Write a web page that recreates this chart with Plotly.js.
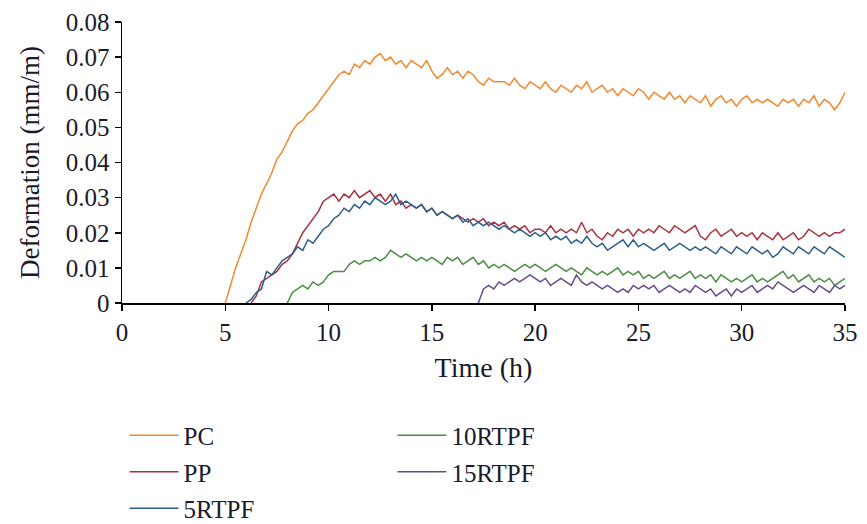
<!DOCTYPE html>
<html>
<head>
<meta charset="utf-8">
<script src="https://cdn.plot.ly/plotly-3.0.1.min.js"></script>
<style>html,body{margin:0;padding:0;background:#fff;}#chart{width:867px;height:524px;}</style>
</head>
<body>
<div id="chart"></div>
<script>
// Time step of the readings (h) and start time of each series
const stepH = 0.25;
const startPC = 5.0, startPP = 6.25, start5 = 6.0, start10 = 8.0, start15 = 17.25;

const seriesNames = ["PC", "PP", "5RTPF", "10RTPF", "15RTPF"];

const valuesPC = [
  0.000,0.005,0.010,0.014,0.018,0.023,0.027,0.031,
  0.034,0.037,0.041,0.043,0.046,0.049,0.051,0.052,
  0.054,0.055,0.057,0.059,0.061,0.063,0.065,0.066,
  0.065,0.068,0.067,0.069,0.068,0.070,0.071,0.069,
  0.070,0.068,0.069,0.067,0.069,0.068,0.067,0.069,
  0.066,0.064,0.065,0.067,0.065,0.066,0.064,0.066,
  0.065,0.063,0.062,0.064,0.063,0.063,0.063,0.062,
  0.064,0.062,0.061,0.063,0.062,0.061,0.063,0.061,
  0.060,0.062,0.061,0.060,0.062,0.061,0.063,0.060,
  0.061,0.062,0.060,0.061,0.059,0.061,0.060,0.059,
  0.061,0.060,0.058,0.060,0.059,0.058,0.060,0.058,
  0.059,0.057,0.059,0.058,0.057,0.059,0.056,0.058,
  0.059,0.057,0.058,0.056,0.058,0.059,0.057,0.058,
  0.057,0.058,0.057,0.056,0.058,0.057,0.058,0.056,
  0.058,0.057,0.059,0.056,0.058,0.057,0.055,0.057,
  0.060
];

const valuesPP = [
  0.000,0.002,0.006,0.007,0.008,0.009,0.011,0.012,
  0.014,0.017,0.020,0.022,0.024,0.026,0.029,0.030,
  0.031,0.029,0.031,0.030,0.032,0.030,0.031,0.032,
  0.030,0.031,0.029,0.031,0.028,0.029,0.027,0.028,
  0.027,0.028,0.026,0.027,0.025,0.026,0.025,0.024,
  0.025,0.024,0.023,0.024,0.023,0.024,0.022,0.023,
  0.022,0.023,0.021,0.022,0.021,0.022,0.020,0.021,
  0.021,0.020,0.022,0.020,0.021,0.020,0.021,0.020,
  0.023,0.020,0.021,0.019,0.018,0.020,0.019,0.021,
  0.020,0.021,0.019,0.021,0.020,0.021,0.020,0.022,
  0.021,0.020,0.022,0.021,0.020,0.021,0.022,0.019,
  0.018,0.020,0.021,0.019,0.020,0.021,0.019,0.020,
  0.019,0.020,0.018,0.020,0.019,0.018,0.020,0.018,
  0.019,0.020,0.018,0.019,0.021,0.020,0.019,0.020,
  0.019,0.020,0.020,0.021
];

const values5RTPF = [
  0.000,0.001,0.003,0.004,0.009,0.008,0.010,0.012,
  0.013,0.014,0.016,0.015,0.018,0.017,0.019,0.021,
  0.022,0.024,0.025,0.027,0.026,0.028,0.027,0.029,
  0.028,0.030,0.029,0.028,0.029,0.031,0.028,0.029,
  0.028,0.027,0.028,0.026,0.027,0.025,0.026,0.025,
  0.024,0.025,0.023,0.024,0.022,0.023,0.022,0.023,
  0.022,0.021,0.022,0.021,0.020,0.021,0.020,0.019,
  0.020,0.019,0.020,0.018,0.019,0.018,0.019,0.017,
  0.018,0.017,0.019,0.017,0.016,0.017,0.015,0.016,
  0.017,0.018,0.016,0.018,0.016,0.017,0.016,0.015,
  0.016,0.017,0.015,0.016,0.017,0.016,0.015,0.016,
  0.015,0.016,0.015,0.014,0.016,0.015,0.014,0.016,
  0.015,0.014,0.016,0.015,0.014,0.015,0.013,0.014,
  0.016,0.015,0.014,0.016,0.015,0.014,0.016,0.015,
  0.014,0.016,0.015,0.014,0.013
];

const values10RTPF = [
  0.000,0.003,0.004,0.005,0.004,0.006,0.005,0.006,
  0.008,0.009,0.009,0.009,0.011,0.012,0.011,0.012,
  0.012,0.013,0.012,0.013,0.015,0.014,0.013,0.014,
  0.013,0.012,0.013,0.012,0.013,0.012,0.011,0.013,
  0.012,0.013,0.011,0.012,0.013,0.011,0.012,0.010,
  0.011,0.010,0.011,0.010,0.009,0.010,0.011,0.010,
  0.011,0.010,0.009,0.010,0.011,0.010,0.009,0.010,
  0.009,0.008,0.010,0.009,0.008,0.009,0.008,0.009,
  0.010,0.008,0.009,0.008,0.009,0.007,0.008,0.007,
  0.008,0.009,0.007,0.008,0.007,0.008,0.009,0.007,
  0.008,0.007,0.008,0.006,0.008,0.007,0.006,0.007,
  0.006,0.007,0.008,0.006,0.007,0.006,0.007,0.008,
  0.009,0.007,0.008,0.006,0.007,0.008,0.006,0.007,
  0.006,0.007,0.005,0.006,0.007
];

const values15RTPF = [
  0.000,0.004,0.005,0.004,0.006,0.005,0.006,0.007,
  0.006,0.007,0.008,0.007,0.006,0.007,0.005,0.006,
  0.007,0.006,0.005,0.008,0.006,0.005,0.006,0.005,
  0.004,0.005,0.004,0.003,0.004,0.003,0.005,0.004,
  0.005,0.004,0.005,0.003,0.004,0.005,0.004,0.003,
  0.004,0.003,0.005,0.004,0.003,0.004,0.002,0.003,
  0.004,0.002,0.004,0.003,0.004,0.005,0.003,0.004,
  0.005,0.004,0.006,0.005,0.004,0.003,0.004,0.005,
  0.004,0.003,0.005,0.004,0.003,0.005,0.004,0.005
];

const xTickVals = [0, 5, 10, 15, 20, 25, 30, 35];
const yTickVals = [0, 0.01, 0.02, 0.03, 0.04, 0.05, 0.06, 0.07, 0.08];
const yTickText = ["0", "0.01", "0.02", "0.03", "0.04", "0.05", "0.06", "0.07", "0.08"];

const colors = ["#F0892F", "#A8323E", "#2B5F8C", "#4C8C45", "#654A8C"];

function times(start, n) {
  const t = [];
  for (let i = 0; i < n; i++) t.push(+(start + i * stepH).toFixed(3));
  return t;
}

const allValues = [valuesPC, valuesPP, values5RTPF, values10RTPF, values15RTPF];
const starts = [startPC, startPP, start5, start10, start15];
const legendIds = ["legend", "legend", "legend", "legend2", "legend2"];

const traces = allValues.map((v, i) => ({
  type: "scatter",
  mode: "lines",
  name: seriesNames[i],
  x: times(starts[i], v.length),
  y: v,
  line: {color: colors[i], width: 1.5},
  legend: legendIds[i],
  legendgroup: "g" + i
}));

const fontFam = "Liberation Serif, Times New Roman, serif";
const txtColor = "#1a1a2a";
const legendCommon = {
  orientation: "v",
  xanchor: "left",
  yanchor: "top",
  font: {family: fontFam, size: 25, color: txtColor},
  tracegroupgap: 1,
  bgcolor: "rgba(0,0,0,0)",
  itemwidth: 49
};

const layout = {
  width: 867,
  height: 524,
  margin: {l: 122, r: 22, t: 22, b: 221, autoexpand: false},
  paper_bgcolor: "#fff",
  plot_bgcolor: "#fff",
  font: {family: fontFam, size: 25, color: txtColor},
  showlegend: true,
  xaxis: {
    range: [0, 35],
    tickvals: xTickVals,
    ticks: "outside",
    ticklen: 6,
    tickwidth: 1.5,
    tickcolor: "#000",
    showline: true,
    linecolor: "#000",
    linewidth: 1.5,
    showgrid: false,
    zeroline: false,
    automargin: false,
    tickfont: {family: fontFam, size: 25, color: txtColor},
    title: {text: "Time (h)", font: {family: fontFam, size: 28, color: txtColor}, standoff: 13}
  },
  yaxis: {
    range: [0, 0.08],
    tickvals: yTickVals,
    ticktext: yTickText,
    ticks: "outside",
    ticklen: 6,
    tickwidth: 1.5,
    tickcolor: "#000",
    showline: true,
    linecolor: "#000",
    linewidth: 1.5,
    showgrid: false,
    zeroline: false,
    automargin: false,
    tickfont: {family: fontFam, size: 25, color: txtColor},
    title: {text: "Deformation (mm/m)", font: {family: fontFam, size: 27, color: txtColor}, standoff: 18}
  },
  legend: Object.assign({}, legendCommon, {x: 0.0035, y: -0.390}),
  legend2: Object.assign({}, legendCommon, {x: 0.374, y: -0.390})
};

Plotly.newPlot("chart", traces, layout, {displayModeBar: false, staticPlot: true});
</script>
</body>
</html>
